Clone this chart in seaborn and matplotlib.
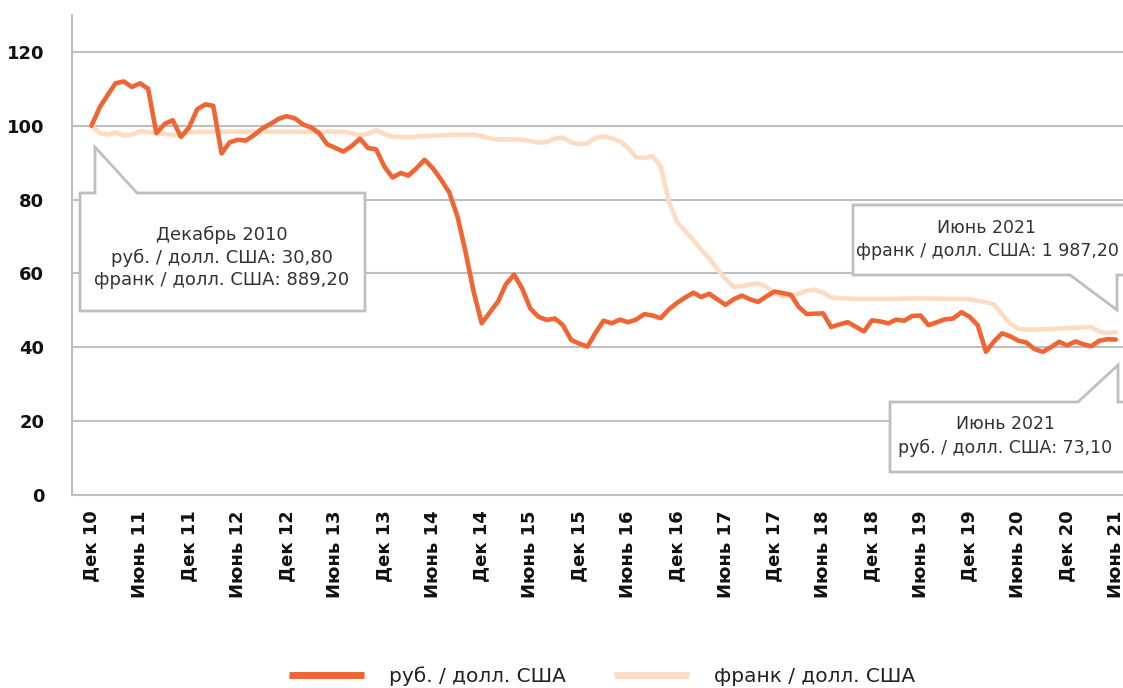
import pandas as pd
import seaborn as sns
import matplotlib.pyplot as plt
from matplotlib.patches import Polygon
from matplotlib.lines import Line2D

# monthly index values, Dec 2010 = 100
months = pd.date_range('2010-12-01', periods=127, freq='MS')

rub = [100, 105, 108.5, 111.5, 112, 110.5, 111.5, 110, 98, 100.5,
       101.5, 97, 99.5, 104.5, 105.8, 105.4, 92.5, 95.5, 96.2, 96,
       97.5, 99.3, 100.5, 101.9, 102.6, 102, 100.3, 99.6, 98, 95,
       94, 93, 94.5, 96.5, 94, 93.6, 89, 86, 87.2, 86.5,
       88.5, 90.8, 88.5, 85.5, 82, 75.5, 66, 55, 46.5, 49.5,
       52.5, 57, 59.7, 56, 50.5, 48.3, 47.4, 47.8, 46, 42,
       41, 40.2, 44, 47.2, 46.5, 47.5, 46.8, 47.5, 49, 48.6,
       47.9, 50.3, 52, 53.5, 54.8, 53.6, 54.5, 53, 51.5, 53,
       54, 53, 52.3, 53.8, 55.1, 54.7, 54.2, 51, 49, 49.1,
       49.2, 45.5, 46.2, 46.8, 45.6, 44.3, 47.3, 47, 46.5, 47.5,
       47.2, 48.5, 48.6, 46, 46.8, 47.6, 47.8, 49.5, 48.3, 46,
       38.8, 41.5, 43.8, 43, 41.8, 41.3, 39.5, 38.8, 40, 41.5,
       40.5, 41.6, 40.8, 40.3, 41.8, 42.2, 42.1]

franc = [100, 98, 97.6, 98.2, 97.4, 97.6, 98.5, 98.3, 98, 97.8,
         97.5, 97.4, 98.2, 98.3, 98.4, 98.4, 98.4, 98.4, 98.4, 98.4,
         98.4, 98.4, 98.4, 98.4, 98.4, 98.4, 98.4, 98.4, 98.4, 98.4,
         98.4, 98.4, 98, 97.4, 97.8, 98.8, 97.8, 97, 97, 97,
         97.1, 97.2, 97.3, 97.4, 97.5, 97.6, 97.6, 97.6, 97.2, 96.6,
         96.3, 96.3, 96.3, 96.2, 95.8, 95.4, 95.6, 96.5, 96.8, 95.5,
         95, 95.2, 96.8, 97.1, 96.6, 95.8, 94, 91.5, 91.3, 91.8,
         89, 79.5, 74, 71.5, 69, 66.5, 64, 61.2, 58.5, 56.4,
         56.6, 57, 57.3, 56.4, 54.6, 53.8, 54, 54.5, 55.3, 55.6,
         54.8, 53.5, 53.3, 53.2, 53.1, 53.1, 53.1, 53.1, 53.1, 53.1,
         53.2, 53.2, 53.2, 53.2, 53.2, 53.1, 53.1, 53.1, 53, 52.6,
         52.2, 51.6, 49, 46.5, 45, 44.8, 44.8, 44.9, 45, 45.1,
         45.2, 45.3, 45.4, 45.5, 44.2, 43.9, 44.1]

series_names = ['руб. / долл. США', 'франк / долл. США']
colors = ['#EF6533', '#FDDCC3']

tick_dates = pd.date_range('2010-12-01', '2021-06-01', freq='6MS')
tick_labels = ['Дек 10', 'Июнь 11', 'Дек 11', 'Июнь 12', 'Дек 12', 'Июнь 13',
               'Дек 13', 'Июнь 14', 'Дек 14', 'Июнь 15', 'Дек 15', 'Июнь 16',
               'Дек 16', 'Июнь 17', 'Дек 17', 'Июнь 18', 'Дек 18', 'Июнь 19',
               'Дек 19', 'Июнь 20', 'Дек 20', 'Июнь 21']

callouts = [
    ['Декабрь 2010', 'руб. / долл. США: 30,80', 'франк / долл. США: 889,20'],
    ['Июнь 2021', 'франк / долл. США: 1 987,20'],
    ['Июнь 2021', 'руб. / долл. США: 73,10'],
]

df = pd.DataFrame({'date': months, series_names[0]: rub, series_names[1]: franc})
df = df.melt(id_vars='date', var_name='series', value_name='value')

sns.set_theme(style='white')
plt.rcParams['font.family'] = ['DejaVu Sans']

W, H = 1123, 688
fig = plt.figure(figsize=(W / 100, H / 100), dpi=100)
ax = fig.add_axes([72 / W, 1 - 495 / H, 1 - 72 / W, (495 - 15) / H])

# franc first so the ruble line sits on top
sns.lineplot(data=df, x='date', y='value', hue='series',
             hue_order=series_names[::-1], palette=colors[::-1],
             linewidth=3.3, ax=ax, legend=False)
for ln in ax.lines:
    ln.set_solid_joinstyle('round')
    ln.set_solid_capstyle('round')

grid_c = '#BFBFBF'
ax.set_ylim(0, 130)
ax.set_yticks(range(0, 121, 20))
ax.set_xlim(pd.Timestamp('2010-09-19'), pd.Timestamp('2021-06-28'))
ax.set_xticks(tick_dates)
ax.set_xticklabels(tick_labels, rotation=90)
ax.yaxis.grid(True, color=grid_c, linewidth=1.5)
ax.xaxis.grid(False)
ax.set_xlabel('')
ax.set_ylabel('')
for s in ['top', 'right']:
    ax.spines[s].set_visible(False)
for s in ['left', 'bottom']:
    ax.spines[s].set_color(grid_c)
    ax.spines[s].set_linewidth(1.5)
ax.tick_params(axis='x', direction='in', length=9, width=1.2, color=grid_c,
               pad=11, labelsize=13)
ax.tick_params(axis='y', length=0, pad=20, labelsize=13)
for lab in ax.get_xticklabels() + ax.get_yticklabels():
    lab.set_fontweight('bold')
    lab.set_color('#111111')


def px(x, y):
    return (x / W, 1 - y / H)


box_shapes = [
    [(80, 193), (95, 193), (95, 147), (137, 193), (365, 193), (365, 311), (80, 311)],
    [(853, 205), (1130, 205), (1130, 275), (1117, 275), (1117, 310), (1070, 275), (853, 275)],
    [(890, 402), (1078, 402), (1118, 365), (1118, 402), (1130, 402), (1130, 472), (890, 472)],
]
text_pos = [(222, [235, 258, 280], 13), (987, [228, 251], 12.5), (1005, [424, 448], 12.5)]

for shape, lines, (tx, tys, fs) in zip(box_shapes, callouts, text_pos):
    fig.add_artist(Polygon([px(*p) for p in shape], closed=True,
                           transform=fig.transFigure, facecolor='white',
                           edgecolor=grid_c, linewidth=2, zorder=5))
    for t, ty in zip(lines, tys):
        fig.text(*px(tx, ty), t, ha='center', va='center', fontsize=fs,
                 color='#333333', zorder=6)

handles = [Line2D([0], [0], color=c, linewidth=5, solid_capstyle='butt') for c in colors]
fig.legend(handles, series_names, loc='center', bbox_to_anchor=(602 / W, 1 - 676 / H),
           ncol=2, frameon=False, fontsize=14.5, handlelength=3.7,
           handletextpad=1.25, columnspacing=2.4, labelcolor='#222222')

plt.savefig('out.png', dpi=100)
